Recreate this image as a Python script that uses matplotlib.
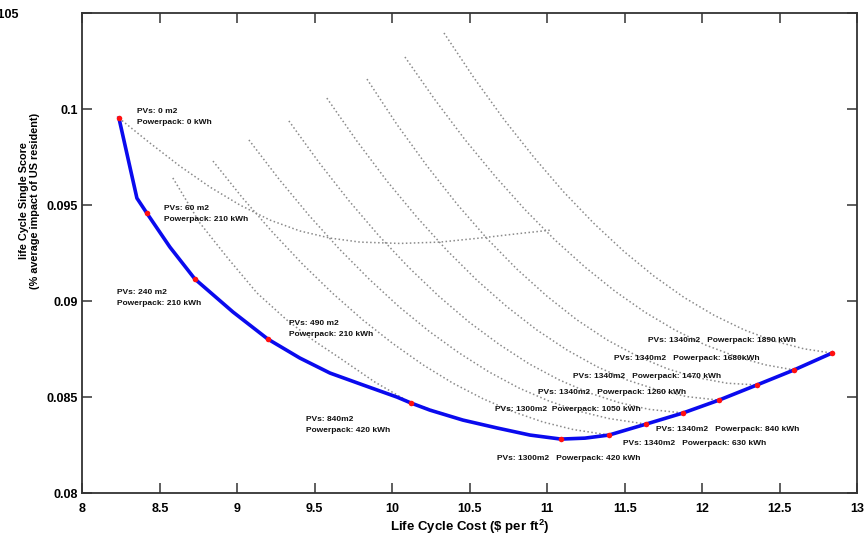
import matplotlib.pyplot as plt

plt.rcParams['font.family'] = ['Liberation Sans', 'DejaVu Sans']

# one dotted trade-off curve per Powerpack size (PV area grows along each curve)
pack_0_cost = [8.236, 8.436, 8.629, 8.823, 9.017, 9.210, 9.404, 9.598, 9.791, 10.050, 10.308, 10.566, 10.824, 11.031]
pack_0_score = [0.09953, 0.09823, 0.09703, 0.09594, 0.09500, 0.09422, 0.09365, 0.09328, 0.09307, 0.09300, 0.09307, 0.09328, 0.09352, 0.09370]

pack_210_cost = [8.352, 8.416, 8.565, 8.726, 8.972, 9.197, 9.404, 9.598, 9.811, 10.030, 10.121]
pack_210_score = [0.09536, 0.09458, 0.09281, 0.09115, 0.08943, 0.08802, 0.08703, 0.08625, 0.08563, 0.08500, 0.08469]

pack_420_cost = [8.584, 8.759, 8.933, 9.127, 9.320, 9.488, 9.662, 9.888, 10.121, 10.456, 10.676, 10.889, 11.089, 11.244]
pack_420_score = [0.09641, 0.09406, 0.09229, 0.09042, 0.08901, 0.08797, 0.08703, 0.08578, 0.08469, 0.08380, 0.08339, 0.08302, 0.08281, 0.08286]

pack_630_cost = [8.843, 9.036, 9.230, 9.424, 9.617, 9.811, 10.005, 10.198, 10.392, 10.586, 10.779, 10.973, 11.167, 11.399]
pack_630_score = [0.09729, 0.09535, 0.09356, 0.09190, 0.09039, 0.08901, 0.08778, 0.08668, 0.08572, 0.08491, 0.08424, 0.08370, 0.08331, 0.08302]

pack_840_cost = [9.075, 9.269, 9.462, 9.656, 9.850, 10.043, 10.237, 10.431, 10.624, 10.818, 11.012, 11.205, 11.399, 11.638]
pack_840_score = [0.09839, 0.09635, 0.09447, 0.09273, 0.09115, 0.08971, 0.08843, 0.08730, 0.08631, 0.08547, 0.08479, 0.08426, 0.08388, 0.08359]

pack_1050_cost = [9.333, 9.527, 9.720, 9.914, 10.108, 10.301, 10.495, 10.689, 10.883, 11.076, 11.270, 11.464, 11.657, 11.877]
pack_1050_score = [0.09938, 0.09722, 0.09523, 0.09340, 0.09174, 0.09025, 0.08891, 0.08775, 0.08673, 0.08590, 0.08522, 0.08471, 0.08436, 0.08417]

pack_1260_cost = [9.578, 9.772, 9.966, 10.160, 10.353, 10.547, 10.741, 10.934, 11.128, 11.322, 11.515, 11.709, 11.903, 12.109]
pack_1260_score = [0.10057, 0.09833, 0.09625, 0.09436, 0.09264, 0.09108, 0.08970, 0.08849, 0.08745, 0.08658, 0.08589, 0.08538, 0.08502, 0.08484]

pack_1470_cost = [9.837, 10.030, 10.224, 10.418, 10.611, 10.805, 10.999, 11.192, 11.386, 11.580, 11.773, 11.967, 12.161, 12.354]
pack_1470_score = [0.10156, 0.09920, 0.09704, 0.09505, 0.09326, 0.09166, 0.09025, 0.08902, 0.08798, 0.08714, 0.08648, 0.08601, 0.08572, 0.08563]

pack_1680_cost = [10.082, 10.276, 10.469, 10.663, 10.857, 11.050, 11.244, 11.438, 11.631, 11.825, 12.019, 12.212, 12.406, 12.593]
pack_1680_score = [0.10271, 0.10048, 0.09841, 0.09651, 0.09476, 0.09318, 0.09177, 0.09051, 0.08942, 0.08849, 0.08772, 0.08713, 0.08668, 0.08641]

pack_1890_cost = [10.334, 10.527, 10.721, 10.915, 11.108, 11.302, 11.496, 11.689, 11.883, 12.077, 12.271, 12.464, 12.658, 12.838]
pack_1890_score = [0.10396, 0.10163, 0.09946, 0.09748, 0.09567, 0.09404, 0.09258, 0.09130, 0.09019, 0.08926, 0.08850, 0.08792, 0.08751, 0.08729]

# pareto front
front_cost = [8.236, 8.352, 8.416, 8.565, 8.726, 8.972, 9.197, 9.404, 9.598, 9.811, 10.030, 10.121, 10.243,
              10.456, 10.676, 10.889, 11.089, 11.244, 11.399, 11.638, 11.877, 12.109, 12.354, 12.593, 12.838]
front_score = [0.09953, 0.09536, 0.09458, 0.09281, 0.09115, 0.08943, 0.08802, 0.08703, 0.08625, 0.08563, 0.08500, 0.08469, 0.08432,
               0.08380, 0.08339, 0.08302, 0.08281, 0.08286, 0.08302, 0.08359, 0.08417, 0.08484, 0.08563, 0.08641, 0.08729]

# optimal designs on the front
opt_cost = [8.236, 8.416, 8.726, 9.197, 10.121, 11.089, 11.399, 11.638, 11.877, 12.109, 12.354, 12.593, 12.838]
opt_score = [0.09953, 0.09458, 0.09115, 0.08802, 0.08469, 0.08281, 0.08302, 0.08359, 0.08417, 0.08484, 0.08563, 0.08641, 0.08729]
opt_labels = ["PVs: 0 m2\nPowerpack: 0 kWh",
              "PVs: 60 m2\nPowerpack: 210 kWh",
              "PVs: 240 m2\nPowerpack: 210 kWh",
              "PVs: 490 m2\nPowerpack: 210 kWh",
              "PVs: 840m2\nPowerpack: 420 kWh",
              "PVs: 1300m2   Powerpack: 420 kWh",
              "PVs: 1340m2   Powerpack: 630 kWh",
              "PVs: 1340m2   Powerpack: 840 kWh",
              "PVs: 1300m2  Powerpack: 1050 kWh",
              "PVs: 1340m2   Powerpack: 1260 kWh",
              "PVs: 1340m2   Powerpack: 1470 kWh",
              "PVs: 1340m2   Powerpack: 1680kWh",
              "PVs: 1340m2   Powerpack: 1890 kWh"]

# label offsets in pixels (left edge, vertical centre) from each point
label_offsets = [(18, 1), (17, -1), (-78, -19), (21, 10), (-105, -22), (-64, -19), (14, -8),
                 (10, -5), (-188, 3), (-181, 8), (-184, 8), (-180, 11), (-184, 13)]

fig, ax = plt.subplots(figsize=(8.67, 5.43), dpi=100)
fig.subplots_adjust(left=0.095, right=0.9885, bottom=0.092, top=0.976)

curves = [(pack_0_cost, pack_0_score), (pack_210_cost, pack_210_score), (pack_420_cost, pack_420_score),
          (pack_630_cost, pack_630_score), (pack_840_cost, pack_840_score), (pack_1050_cost, pack_1050_score),
          (pack_1260_cost, pack_1260_score), (pack_1470_cost, pack_1470_score), (pack_1680_cost, pack_1680_score),
          (pack_1890_cost, pack_1890_score)]
for cx, cy in curves:
    ax.plot(cx, cy, color='#8a8a8a', linestyle=(0, (1, 1.6)), linewidth=1.1)

ax.plot(front_cost, front_score, color='#0a0aee', linewidth=2.6, solid_joinstyle='round')
ax.plot(opt_cost, opt_score, 'o', color='#ff1010', markersize=4.0, markeredgewidth=0)

for x, y, txt, off in zip(opt_cost, opt_score, opt_labels, label_offsets):
    ax.annotate(txt, (x, y), xytext=off, textcoords='offset pixels', ha='left', va='center',
                fontsize=6.0, fontweight='bold', linespacing=1.9, color='#111111')

ax.set_xlim(8, 13)
ax.set_ylim(0.08, 0.105)
ax.set_xticks([8, 8.5, 9, 9.5, 10, 10.5, 11, 11.5, 12, 12.5, 13])
ax.set_xticklabels(['8', '8.5', '9', '9.5', '10', '10.5', '11', '11.5', '12', '12.5', '13'])
ax.set_yticks([0.08, 0.085, 0.09, 0.095, 0.1, 0.105])
# the 0.105 label sits off at the left edge, drawn separately below
ax.set_yticklabels(['0.08', '0.085', '0.09', '0.095', '0.1', ''])
ax.tick_params(direction='in', length=7, width=1.1, top=True, right=True, color='#333333',
               labelsize=9, pad=3)
ax.tick_params(axis='x', pad=7)
for lab in ax.get_xticklabels() + ax.get_yticklabels():
    lab.set_fontweight('bold')
for sp in ax.spines.values():
    sp.set_linewidth(1.3)
    sp.set_color('#333333')

fig.text(19 / 867, 1 - 15 / 543, '0.105', ha='right', va='center', fontsize=9, fontweight='bold')
fig.text(0.542, 0.029, r'Life Cycle Cost (\$ per ft$^\mathregular{2}$)', ha='center', va='center',
         fontsize=9.5, fontweight='bold')
fig.text(0.034, 0.63, 'life Cycle Single Score\n(% average impact of US resident)', rotation=90,
         ha='center', va='center', fontsize=7.8, fontweight='bold', linespacing=1.15)

fig.savefig('out.png', dpi=100)
